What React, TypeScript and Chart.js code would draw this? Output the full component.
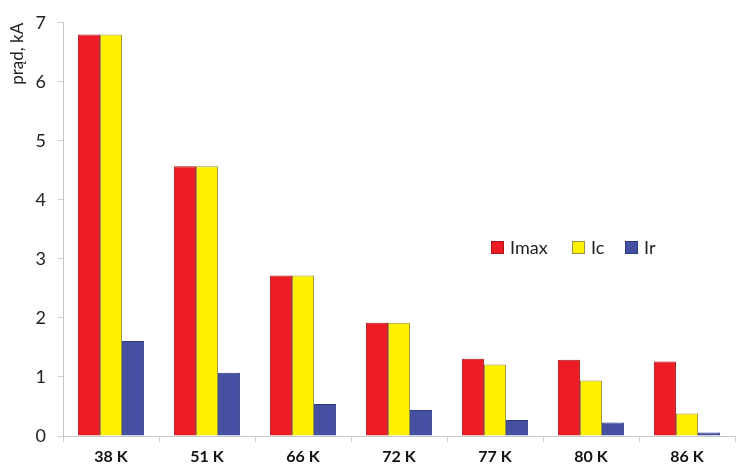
import React, { useEffect, useRef } from "react";
import { Chart, registerables } from "chart.js";

Chart.register(...registerables);

const categories = ["38 K", "51 K", "66 K", "72 K", "77 K", "80 K", "86 K"];
const imax = [6.8, 4.57, 2.72, 1.92, 1.31, 1.29, 1.26];
const ic = [6.8, 4.57, 2.72, 1.92, 1.21, 0.94, 0.38];
const ir = [1.61, 1.07, 0.54, 0.44, 0.27, 0.23, 0.06];
const yTicks = [0, 1, 2, 3, 4, 5, 6, 7];
const seriesNames = ["Imax", "Ic", "Ir"];
const seriesColors = ["#ED1C24", "#FFF200", "#4650A2"];
const seriesBorders = ["#A81418", "#9A9040", "#2E3A80"];

const FONT = "Lato, 'Open Sans', 'DejaVu Sans', sans-serif";

export default function App() {
  const ref = useRef<HTMLCanvasElement | null>(null);

  useEffect(() => {
    document.body.style.margin = "0";
    const ctx = ref.current!.getContext("2d")!;
    const values = [imax, ic, ir];
    const chart = new Chart(ctx, {
      type: "bar",
      data: {
        labels: categories,
        datasets: seriesNames.map((n, i) => ({
          label: n,
          data: values[i],
          backgroundColor: seriesColors[i],
          borderColor: seriesBorders[i],
          borderWidth: 1,
          categoryPercentage: 0.69,
          barPercentage: 1,
        })),
      },
      options: {
        animation: false,
        responsive: false,
        maintainAspectRatio: false,
        layout: { padding: { top: 19, right: 6, left: 0, bottom: 0 } },
        plugins: { legend: { display: false }, tooltip: { enabled: false } },
        scales: {
          x: {
            grid: {
              display: true,
              drawOnChartArea: false,
              tickLength: 6,
              color: "#d0d0d0",
              offset: true,
            },
            border: { color: "#c8c8c8" },
            ticks: {
              color: "#111",
              font: { family: FONT, size: 16, weight: "bold" },
              padding: 5,
            },
            afterFit: (s: any) => {
              s.height = 33;
            },
          },
          y: {
            min: 0,
            max: 7,
            afterBuildTicks: (s: any) => {
              s.ticks = yTicks.map((v) => ({ value: v }));
            },
            grid: {
              display: true,
              drawOnChartArea: false,
              tickLength: 5,
              color: "#d0d0d0",
            },
            border: { color: "#c8c8c8" },
            ticks: {
              color: "#222",
              font: { family: FONT, size: 18 },
              padding: 12,
            },
            title: {
              display: true,
              text: "prąd, kA",
              align: "end",
              color: "#222",
              font: { family: FONT, size: 17 },
              padding: { top: 7, bottom: 0 },
            },
            afterFit: (s: any) => {
              s.width = 63;
            },
          },
        },
      },
    });
    return () => chart.destroy();
  }, []);

  const legendPos = [491, 572, 625];
  return (
    <div style={{ position: "fixed", left: 0, top: 0, width: 741, height: 469, background: "#fff" }}>
      <canvas ref={ref} width={741} height={469} style={{ display: "block" }} />
      {seriesNames.map((n, i) => (
        <div
          key={n}
          style={{
            position: "absolute",
            left: legendPos[i],
            top: 236,
            height: 22,
            display: "flex",
            alignItems: "center",
            fontFamily: FONT,
            fontSize: 18,
            color: "#222",
          }}
        >
          <span
            style={{
              display: "inline-block",
              width: 11,
              height: 11,
              background: seriesColors[i],
              border: `1px solid ${seriesBorders[i]}`,
              marginRight: 6,
            }}
          />
          {n}
        </div>
      ))}
    </div>
  );
}
